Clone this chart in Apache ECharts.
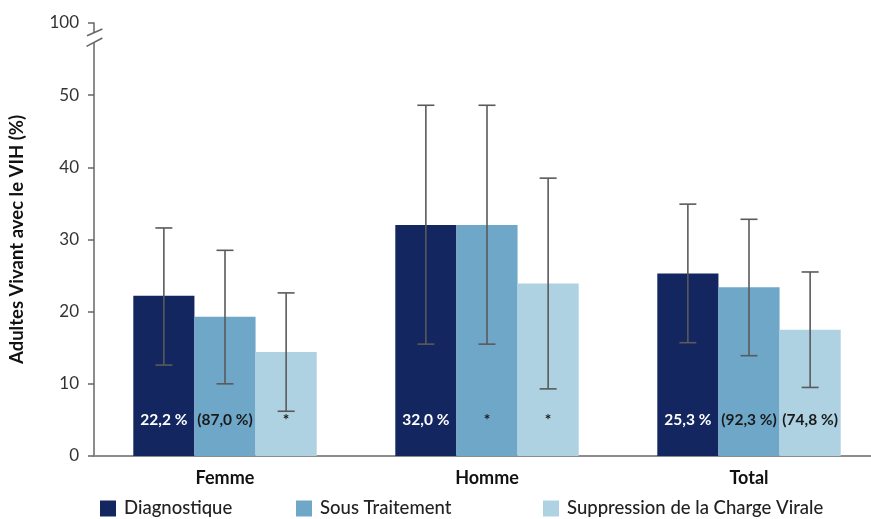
<!DOCTYPE html>
<html>
<head>
<meta charset="utf-8">
<script src="https://cdn.jsdelivr.net/npm/echarts@6/dist/echarts.min.js"></script>
<style>
  html, body { margin: 0; padding: 0; background: #fff; }
  #chart { width: 871px; height: 519px; }
</style>
</head>
<body>
<div id="chart"></div>
<script>
// Categories and series
const categories = ['Femme', 'Homme', 'Total'];
const seriesNames = ['Diagnostique', 'Sous Traitement', 'Suppression de la Charge Virale'];

// Bar heights (% of adults living with HIV)
const diagnostique = [22.2, 32.0, 25.3];
const sousTraitement = [19.3, 32.0, 23.4];
const suppression = [14.4, 23.9, 17.5];

// Confidence interval bounds
const diagnostiqueLow = [12.6, 15.5, 15.7];
const diagnostiqueHigh = [31.6, 48.6, 34.9];
const sousTraitementLow = [10.0, 15.5, 13.9];
const sousTraitementHigh = [28.5, 48.6, 32.8];
const suppressionLow = [6.2, 9.3, 9.5];
const suppressionHigh = [22.6, 38.5, 25.5];

// Text printed inside the bars
const diagnostiqueLabels = ['22,2 %', '32,0 %', '25,3 %'];
const sousTraitementLabels = ['(87,0 %)', '*', '(92,3 %)'];
const suppressionLabels = ['*', '*', '(74,8 %)'];

// Y axis tick labels (top tick sits above an axis break and reads 100)
const yTickValues = [0, 10, 20, 30, 40, 50, 60];
const yTickLabels = ['0', '10', '20', '30', '40', '50', '100'];

const colors = ['#13265f', '#6fa7c9', '#aed2e2'];
const FONT = 'Lato, "Noto Sans", sans-serif';
const GRID_LEFT = 94;
const CAT_GAP = 0.30;

const chart = echarts.init(document.getElementById('chart'), null, { renderer: 'canvas' });

const values = [diagnostique, sousTraitement, suppression];
const lows = [diagnostiqueLow, sousTraitementLow, suppressionLow];
const highs = [diagnostiqueHigh, sousTraitementHigh, suppressionHigh];
const labels = [diagnostiqueLabels, sousTraitementLabels, suppressionLabels];

function barSeries(k) {
  return {
    name: seriesNames[k],
    type: 'bar',
    data: values[k],
    barGap: '0%',
    barCategoryGap: (CAT_GAP * 100) + '%',
    itemStyle: { color: colors[k] },
    z: 2,
    label: {
      show: true,
      position: 'insideBottom',
      distance: 28,
      fontFamily: FONT,
      fontSize: 15.5,
      fontWeight: 'bold',
      color: k === 0 ? '#ffffff' : '#1a1a1a',
      formatter: p => labels[k][p.dataIndex]
    }
  };
}

function errorSeries(k) {
  return {
    type: 'custom',
    name: seriesNames[k] + ' IC',
    data: categories.map((c, i) => [i, lows[k][i], highs[k][i]]),
    z: 5,
    silent: true,
    renderItem: function (params, api) {
      const band = api.size([1, 0])[0];
      const bw = band * (1 - CAT_GAP) / 3;
      const idx = api.value(0);
      const lo = api.coord([idx, api.value(1)]);
      const hi = api.coord([idx, api.value(2)]);
      const x = lo[0] + (k - 1) * bw;
      const cap = 8.5;
      const style = { stroke: '#5a5a5a', lineWidth: 1.6 };
      return {
        type: 'group',
        children: [
          { type: 'line', shape: { x1: x, y1: hi[1], x2: x, y2: lo[1] }, style: style },
          { type: 'line', shape: { x1: x - cap, y1: hi[1], x2: x + cap, y2: hi[1] }, style: style },
          { type: 'line', shape: { x1: x - cap, y1: lo[1], x2: x + cap, y2: lo[1] }, style: style }
        ]
      };
    }
  };
}

const legendLefts = [95, 291, 538];

const option = {
  animation: false,
  backgroundColor: '#ffffff',
  grid: { left: GRID_LEFT, width: 786, top: 23, bottom: 63, containLabel: false, outerBoundsMode: 'none' },
  legend: seriesNames.map((n, k) => ({
    data: [n],
    left: legendLefts[k],
    top: 494,
    icon: 'rect',
    itemWidth: 16,
    itemHeight: 16,
    itemGap: 0,
    selectedMode: false,
    textStyle: { fontFamily: FONT, fontSize: 18.5, fontWeight: 500, color: '#222', padding: [0, 0, 0, 3] }
  })),
  xAxis: {
    type: 'category',
    data: categories,
    axisLine: { lineStyle: { color: '#8c8c8c', width: 2 } },
    axisTick: { show: false },
    axisLabel: { fontFamily: FONT, fontSize: 18, fontWeight: 'bold', color: '#111', margin: 13 }
  },
  yAxis: {
    type: 'value',
    min: 0,
    max: 60,
    interval: 10,
    name: 'Adultes Vivant avec le VIH (%)',
    nameLocation: 'middle',
    nameGap: 67,
    nameTextStyle: { fontFamily: FONT, fontSize: 18.5, fontWeight: 'bold', color: '#111' },
    axisLine: { show: true, lineStyle: { color: '#666', width: 1.5 } },
    axisTick: { show: true, length: 6, lineStyle: { color: '#666', width: 1.5 } },
    splitLine: { show: false },
    axisLabel: {
      fontFamily: FONT, fontSize: 17, color: '#333', margin: 15,
      formatter: v => yTickLabels[yTickValues.indexOf(v)]
    }
  },
  series: [barSeries(0), barSeries(1), barSeries(2), errorSeries(0), errorSeries(1), errorSeries(2)]
};

chart.setOption(option);

// Axis break marks between 50 and the top tick
const yTop = chart.convertToPixel({ yAxisIndex: 0 }, 60);
const ax = GRID_LEFT;
chart.setOption({
  graphic: [
    { type: 'rect', shape: { x: ax - 3, y: yTop + 9.5, width: 6, height: 10 }, style: { fill: '#ffffff' }, z: 100 },
    { type: 'line', shape: { x1: ax - 7, y1: yTop + 12.7, x2: ax + 8.4, y2: yTop + 6 }, style: { stroke: '#666', lineWidth: 1.5 }, z: 101 },
    { type: 'line', shape: { x1: ax - 7.5, y1: yTop + 23.4, x2: ax + 8.4, y2: yTop + 15 }, style: { stroke: '#666', lineWidth: 1.5 }, z: 101 }
  ]
});
</script>
</body>
</html>
